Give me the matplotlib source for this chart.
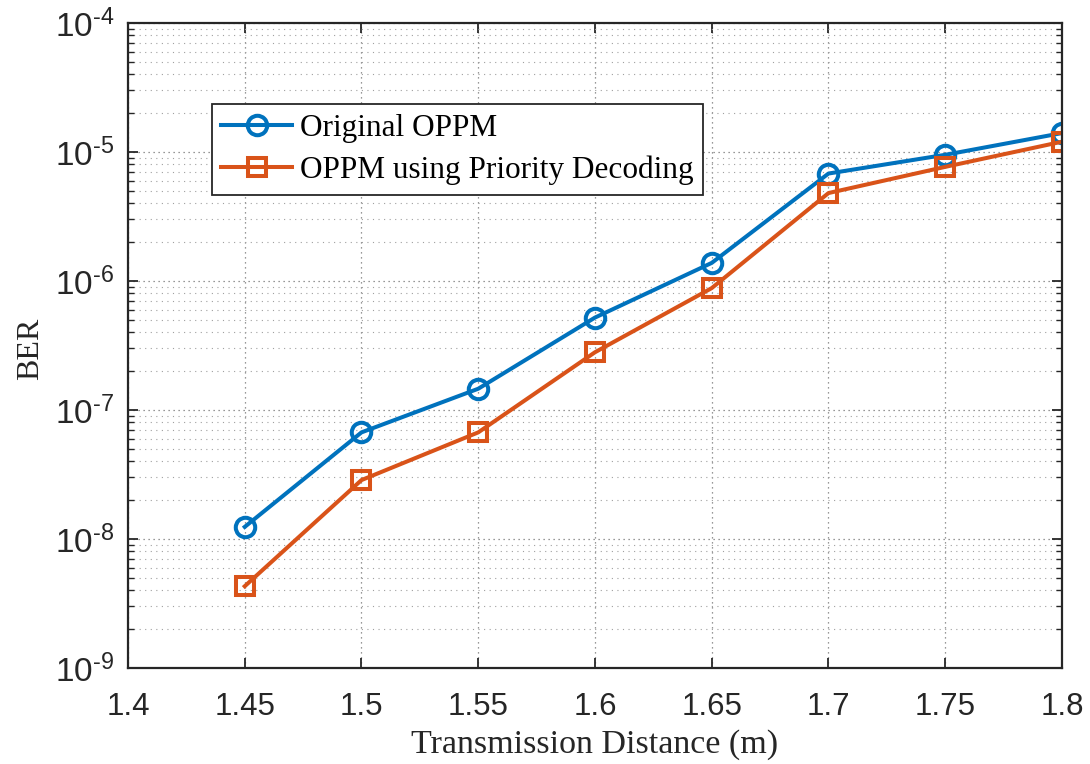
import matplotlib
matplotlib.use("Agg")
import matplotlib.pyplot as plt
from matplotlib.ticker import LogLocator, NullFormatter, FuncFormatter
import numpy as np

distance = [1.45, 1.5, 1.55, 1.6, 1.65, 1.7, 1.75, 1.8]
ber_original = [1.24e-8, 6.7e-8, 1.46e-7, 5.2e-7, 1.38e-6, 6.8e-6, 9.5e-6, 1.4e-5]
ber_priority = [4.3e-9, 2.86e-8, 6.7e-8, 2.8e-7, 8.8e-7, 4.8e-6, 7.66e-6, 1.2e-5]
xticks = [1.4, 1.45, 1.5, 1.55, 1.6, 1.65, 1.7, 1.75, 1.8]
xtick_labels = ["1.4", "1.45", "1.5", "1.55", "1.6", "1.65", "1.7", "1.75", "1.8"]
labels = ["Original OPPM", "OPPM using Priority Decoding"]

blue = "#0072BD"
orange = "#D95319"
dark = "#262626"

plt.rcParams["mathtext.fontset"] = "custom"
plt.rcParams["mathtext.rm"] = "Liberation Sans"
plt.rcParams["mathtext.it"] = "Liberation Sans"
plt.rcParams["font.family"] = ["Liberation Sans", "DejaVu Sans"]

fig = plt.figure(figsize=(10.9, 7.64), dpi=100)
ax = fig.add_axes([0.1174, 0.1257, 0.8569, 0.8443])

ax.plot(distance, ber_original, color=blue, lw=2.9, marker="o", ms=14,
        mfc="none", mec=blue, mew=2.9, label=labels[0])
ax.plot(distance, ber_priority, color=orange, lw=2.9, marker="s", ms=12.5,
        mfc="none", mec=orange, mew=2.9, label=labels[1])

ax.set_yscale("log")
ax.set_ylim(1e-9, 1e-4)
ax.set_xlim(1.4, 1.8)
ax.set_xticks(xticks)
ax.set_xticklabels(xtick_labels)
ax.yaxis.set_major_locator(LogLocator(base=10, numticks=10))
ax.yaxis.set_major_formatter(FuncFormatter(
    lambda v, p: r"$\mathregular{10^{\text{-}%d}}$" % abs(int(round(np.log10(v))))))
ax.yaxis.set_minor_locator(LogLocator(base=10, subs=range(2, 10), numticks=20))
ax.yaxis.set_minor_formatter(NullFormatter())

ax.tick_params(which="both", direction="in", top=True, right=True, color=dark,
               labelcolor=dark)
ax.tick_params(axis="x", which="major", length=7, width=1.3, pad=17, labelsize=22.5)
ax.tick_params(axis="y", which="major", length=7, width=1.3, pad=10, labelsize=24)
ax.tick_params(which="minor", length=4, width=1.0)
for s in ax.spines.values():
    s.set_linewidth(1.6)
    s.set_color(dark)

ax.grid(True, which="major", ls=(0, (1, 3)), color="#777777", lw=0.9)
ax.grid(True, which="minor", ls=(0, (1, 4)), color="#a0a0a0", lw=0.8)

ax.xaxis.label.set_visible(False)
ax.yaxis.label.set_visible(False)
ax.yaxis.get_offset_text().set_visible(False)
ax.xaxis.get_offset_text().set_visible(False)

fig.text(595 / 1090, 1 - 745 / 764, "Transmission Distance (m)",
         family="Liberation Serif", fontsize=24.5, color=dark,
         ha="center", va="center")
fig.text(31 / 1090, 1 - 349 / 764, "BER", family="Liberation Serif",
         fontsize=23, color=dark, rotation=90, ha="center", va="center")

leg = ax.legend(loc="upper left", bbox_to_anchor=(0.09, 0.874),
                prop={"family": "Liberation Serif", "size": 22.5},
                frameon=True, fancybox=False, edgecolor=dark, framealpha=1,
                handlelength=2.25, handletextpad=0.25, borderpad=0.3,
                labelspacing=0.42, borderaxespad=0)
leg.get_frame().set_linewidth(1.3)
for t in leg.get_texts():
    t.set_color("black")

fig.savefig("out.png", dpi=100)
